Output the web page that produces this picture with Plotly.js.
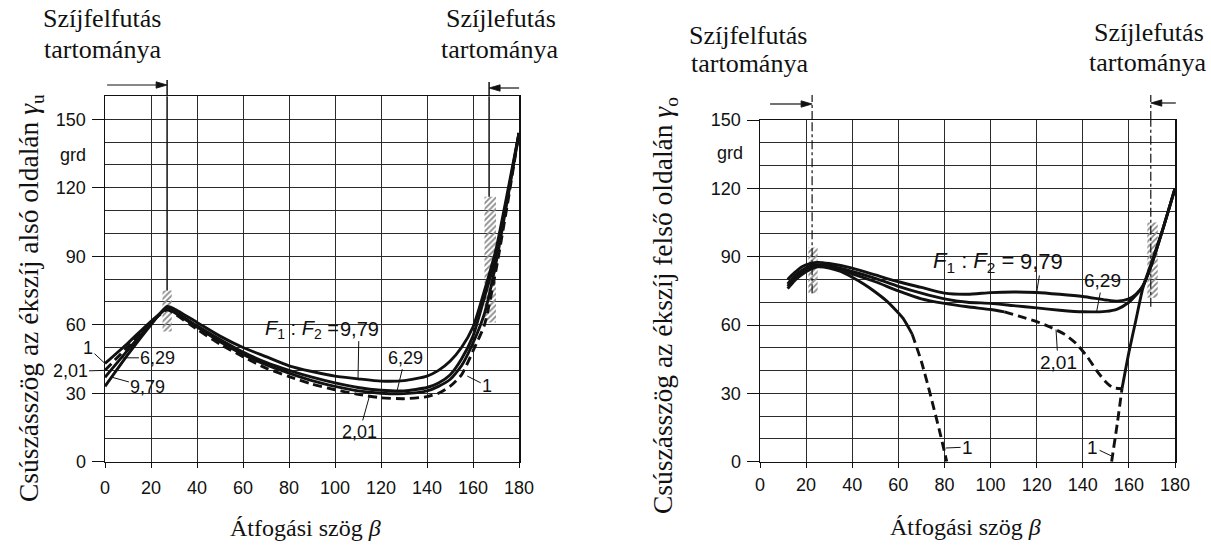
<!DOCTYPE html>
<html><head><meta charset="utf-8">
<script src="https://cdn.plot.ly/plotly-3.0.1.min.js"></script>
<style>html,body{margin:0;padding:0;background:#fff}#chart{width:1211px;height:551px}</style>
</head><body><div id="chart"></div>
<script>
// ---------- tick labels ----------
const xTickVals = [0,20,40,60,80,100,120,140,160,180];
const yTickVals = [0,30,60,90,120,150];

// ---------- left chart (lower side, gamma_u) ----------
const L_x = [0,10,20,27,30,40,50,60,70,80,90,100,110,120,130,140,145,150,155,160,165,170,175,180];
const L_979 = [33,47,60,68,67,61,55,50,46,42,39.5,37.5,36.3,35.3,35.5,37.5,40,44,50,59,75,93,118,144];
const L_629 = [37,49,60.5,67.5,66,59.5,53.5,48,43.5,40,37,34.5,32.5,31.3,31,32.5,34.5,38,45,55,72,90,116,144];
const L_1   = [43,52,61.5,67,65.5,59,52.5,47,42.5,38.8,35.5,33,31,30,29.8,31,33,36,42,52,65,87,115,144];
const L_201 = [40,50.5,61,66.5,65,58,51.5,46,41,37.3,34,31.5,29.5,28,27.6,28.5,30,33,38,48.5,60,84,113,144];

// ---------- right chart (upper side, gamma_o) ----------
const R_x = [12,15,18,22,25,30,40,50,60,70,80,90,100,110,120,130,140,150,155,160,163,166,170,175,180];
const R_979 = [80,83,85.5,87,87.5,87,85,82,79,76.5,74,73.5,74.2,74.5,74.3,73.5,72.5,71,70.5,71.5,73.5,77,87,103,120];
const R_629 = [78,81.5,84,86,86.5,86,83.5,80.5,77,74,71.5,70,69.5,68.5,67.5,66.5,65.8,66,67,70,73,77,87,103,120];
const R_201a_x = [12,15,18,22,25,30,40,50,60,70,80,90,100,106];
const R_201a_y = [77,80.5,83,85.5,86,85.5,82.5,79,75,71.5,69.5,68,66.8,65.8];
const R_201b_x = [106,112,120,126,132,137,142,146,150,153,157];
const R_201b_y = [65.8,64,61.5,59,56,52,46,40,35,32.5,32];
const R_1a_x = [12,15,18,22,25,30,35,40,45,50,55,58,62,66];
const R_1a_y = [76,79.5,82,84.5,85.5,85,83.5,81,78,74.5,70.5,67.5,63,56];
const R_1b_x = [66,70,74,78,81];
const R_1b_y = [56,44,29,13,0];
const R_1c_x = [152.5,155,157];
const R_1c_y = [0,17,32];
const R_1d_x = [157,160,163,166,170,175,180];
const R_1d_y = [32,48,62,76,88,103,120];

// ---------- region boundaries & hatched zones ----------
const L_bounds = [27,167];
const R_bounds = [22.6,169.5];
const L_hatch = [[25,29,57,75],[165,170,61,116]];
const R_hatch = [[21,25,74,94],[168,172.5,72,105]];

// ---------- geometry helpers ----------
const W = 1211, H = 551;
const fx = p => p / W;
const fy = p => 1 - p / H;
const NUM = 'Liberation Sans, Arial, sans-serif';
const SER = 'Liberation Serif, Times New Roman, serif';
const INK = '#111';
const domL = [fx(105), fx(519)], domR = [fx(760), fx(1175)];
const toPaperX = (dom, v) => dom[0] + v / 180 * (dom[1] - dom[0]);

function curve(x, y, xa, ya, dash) {
  return {x: x, y: y, xaxis: xa, yaxis: ya, mode: 'lines', type: 'scatter',
    line: {color: INK, width: 2.9, shape: 'spline', smoothing: 0.6, dash: dash || 'solid'},
    hoverinfo: 'skip', showlegend: false};
}
function hatch(r, xa, ya) {
  return {x: [r[0], r[1], r[1], r[0], r[0]], y: [r[2], r[2], r[3], r[3], r[2]],
    xaxis: xa, yaxis: ya, type: 'scatter', mode: 'none', fill: 'toself',
    fillcolor: 'rgba(150,150,150,0.3)',
    fillpattern: {shape: '/', fgcolor: '#888', size: 4, solidity: 0.45},
    hoverinfo: 'skip', showlegend: false};
}

const DASH = '9px,5px';
const traces = [];
L_hatch.forEach(r => traces.push(hatch(r, 'x', 'y')));
R_hatch.forEach(r => traces.push(hatch(r, 'x2', 'y2')));
traces.push(curve(L_x, L_979, 'x', 'y'));
traces.push(curve(L_x, L_629, 'x', 'y'));
traces.push(curve(L_x, L_1, 'x', 'y'));
traces.push(curve(L_x, L_201, 'x', 'y', DASH));
traces.push(curve(R_x, R_979, 'x2', 'y2'));
traces.push(curve(R_x, R_629, 'x2', 'y2'));
traces.push(curve(R_201a_x, R_201a_y, 'x2', 'y2'));
traces.push(curve(R_201b_x, R_201b_y, 'x2', 'y2', DASH));
traces.push(curve(R_1a_x, R_1a_y, 'x2', 'y2'));
traces.push(curve(R_1b_x, R_1b_y, 'x2', 'y2', DASH));
traces.push(curve(R_1c_x, R_1c_y, 'x2', 'y2', DASH));
traces.push(curve(R_1d_x, R_1d_y, 'x2', 'y2'));

function xAxis(dom, anchor, standoff) {
  return {domain: dom, anchor: anchor, range: [0, 180], tickmode: 'array', tickvals: xTickVals,
    showline: true, mirror: true, linecolor: INK, linewidth: 1.5, zeroline: false,
    showgrid: true, gridcolor: '#2b2b2b', gridwidth: 1,
    ticks: 'outside', ticklen: 5, tickcolor: INK, ticklabelstandoff: standoff,
    tickfont: {family: NUM, size: 18, color: INK}, fixedrange: true};
}
function yAxis(dom, anchor, top) {
  return {domain: dom, anchor: anchor, range: [0, top], tickmode: 'array', tickvals: yTickVals,
    showline: true, mirror: true, linecolor: INK, linewidth: 1.5, zeroline: false,
    showgrid: true, gridcolor: '#2b2b2b', gridwidth: 1,
    minor: {tickmode: 'linear', tick0: 0, dtick: 10, showgrid: true, gridcolor: '#2b2b2b', gridwidth: 1, ticks: ''},
    ticks: 'outside', ticklen: 12, tickcolor: INK, ticklabelstandoff: 2,
    tickfont: {family: NUM, size: 18, color: INK}, fixedrange: true};
}

const shapes = [];
// boundary lines: inside plot part (data) + above plot part (paper in y)
shapes.push({type: 'line', xref: 'x', yref: 'y', x0: L_bounds[0], x1: L_bounds[0], y0: L_hatch[0][3], y1: 160, line: {color: INK, width: 1.5}});
shapes.push({type: 'line', xref: 'x', yref: 'paper', x0: L_bounds[0], x1: L_bounds[0], y0: fy(96.4), y1: fy(80), line: {color: INK, width: 1.5}});
shapes.push({type: 'line', xref: 'x', yref: 'y', x0: L_bounds[1], x1: L_bounds[1], y0: L_hatch[1][3], y1: 160, line: {color: INK, width: 1.5}});
shapes.push({type: 'line', xref: 'x', yref: 'paper', x0: L_bounds[1], x1: L_bounds[1], y0: fy(96.4), y1: fy(82), line: {color: INK, width: 1.5}});
shapes.push({type: 'line', xref: 'x2', yref: 'y2', x0: R_bounds[0], x1: R_bounds[0], y0: 74, y1: 150, line: {color: INK, width: 1.2, dash: 'dashdot'}});
shapes.push({type: 'line', xref: 'x2', yref: 'paper', x0: R_bounds[0], x1: R_bounds[0], y0: fy(120), y1: fy(95), line: {color: INK, width: 1.2, dash: 'dashdot'}});
shapes.push({type: 'line', xref: 'x2', yref: 'y2', x0: R_bounds[1], x1: R_bounds[1], y0: 68, y1: 150, line: {color: INK, width: 1.2, dash: 'dashdot'}});
shapes.push({type: 'line', xref: 'x2', yref: 'paper', x0: R_bounds[1], x1: R_bounds[1], y0: fy(120), y1: fy(95), line: {color: INK, width: 1.2, dash: 'dashdot'}});

// arrows pointing at region boundaries (line + filled head), in paper coords
function arrowShape(dom, v, ypx, tailDx) {
  const hx = toPaperX(dom, v), tx = hx + fx(tailDx), yy = fy(ypx);
  const dir = tailDx < 0 ? 1 : -1;        // head points toward the boundary
  const back = hx - dir * fx(11), hh = 3.2 / H;
  shapes.push({type: 'line', xref: 'paper', yref: 'paper', x0: tx, x1: back, y0: yy, y1: yy, line: {color: INK, width: 1.2}});
  shapes.push({type: 'path', xref: 'paper', yref: 'paper',
    path: `M ${hx} ${yy} L ${back} ${yy + hh} L ${back} ${yy - hh} Z`,
    fillcolor: INK, line: {color: INK, width: 0.8}});
}
arrowShape(domL, L_bounds[0], 85, -60);
arrowShape(domL, L_bounds[1], 88, 30);
arrowShape(domR, R_bounds[0], 104, -42);
arrowShape(domR, R_bounds[1], 103, 25);

const ann = [];
function txt(t, x, y, size, fam, extra) {
  ann.push(Object.assign({xref: 'paper', yref: 'paper', x: fx(x), y: fy(y), text: t, showarrow: false,
    font: {family: fam, size: size, color: INK}, xanchor: 'center', yanchor: 'middle'}, extra || {}));
}
function lbl(t, xref, yref, xv, yv, ax, ay, size) {
  ann.push({xref: xref, yref: yref, x: xv, y: yv, text: t, showarrow: true, arrowhead: 0,
    arrowwidth: 1, arrowcolor: INK, ax: ax, ay: ay, standoff: 0,
    font: {family: NUM, size: size || 18, color: INK}});
}

// region titles
txt('Szíjfelfutás', 102, 19, 26, SER); txt('tartománya', 103, 49, 26, SER);
txt('Szíjlefutás', 501, 19, 26, SER); txt('tartománya', 500, 49, 26, SER);
txt('Szíjfelfutás', 748, 35, 26, SER); txt('tartománya', 749, 64, 26, SER);
txt('Szíjlefutás', 1149, 33, 26, SER); txt('tartománya', 1147, 62, 26, SER);
// axis titles
txt('Csúszásszög az ékszíj alsó oldalán <i>γ</i><sub>u</sub>', 30, 298, 27.5, SER, {textangle: -90});
txt('Csúszásszög az ékszíj felső oldalán <i>γ</i><sub>o</sub>', 664, 306, 27.5, SER, {textangle: -90});
txt('Átfogási szög <i>β</i>', 305, 528, 24, SER);
txt('Átfogási szög <i>β</i>', 965, 527, 24, SER);
// unit labels
txt('grd', 73, 155, 18, NUM);
txt('grd', 730, 153, 18, NUM);

// left chart curve labels
txt('<i>F</i><sub>1</sub> : <i>F</i><sub>2</sub> =', 341, 329, 20, NUM, {xanchor: 'right'});
lbl('9,79', 'x', 'y', 110, 36.4, 1, -50, 20);
lbl('6,29', 'x', 'y', 127, 31.1, 8, -33);
lbl('2,01', 'x', 'y', 115, 28.8, -10, 36);
lbl('1', 'x', 'y', 157.5, 37.5, 20, 10);
lbl('1', 'x', 'y', 0, 43, -17, -16);
lbl('2,01', 'x', 'y', 0, 40, -35, 1);
lbl('6,29', 'x', 'y', 6.5, 45.5, 38, 0);
lbl('9,79', 'x', 'y', 3, 37, 36, 10);

// right chart curve labels
txt('<i>F</i><sub>1</sub> : <i>F</i><sub>2</sub> = ', 1022, 262, 22, NUM, {xanchor: 'right'});
lbl('9,79', 'x2', 'y2', 120, 74.3, 5, -31, 22);
lbl('6,29', 'x2', 'y2', 146, 65.9, 6, -31, 19);
lbl('2,01', 'x2', 'y2', 128.4, 58, 2, 33, 19);
lbl('1', 'x2', 'y2', 80.5, 6, 22, -1, 19);
lbl('1', 'x2', 'y2', 152.5, 2.5, -19, -9, 19);

const layout = {
  width: W, height: H, margin: {l: 0, r: 0, t: 0, b: 0},
  paper_bgcolor: '#fff', plot_bgcolor: '#fff', showlegend: false,
  xaxis: xAxis(domL, 'y', 4),
  yaxis: yAxis([fy(461.7), fy(96.4)], 'x', 160),
  xaxis2: xAxis(domR, 'y2', 1),
  yaxis2: yAxis([fy(461.7), fy(120)], 'x2', 150),
  shapes: shapes, annotations: ann
};
Plotly.newPlot('chart', traces, layout, {staticPlot: true, displayModeBar: false});
</script>
</body></html>
